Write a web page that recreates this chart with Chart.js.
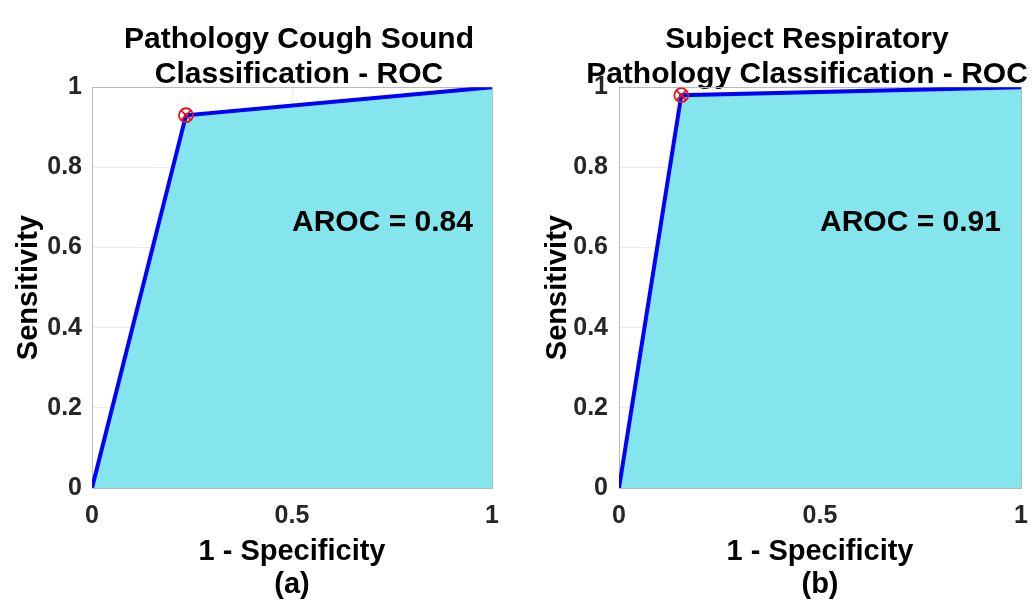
<!DOCTYPE html>
<html><head><meta charset="utf-8">
<script src="https://cdn.jsdelivr.net/npm/chart.js@4/dist/chart.umd.min.js"></script>
<style>
html,body{margin:0;padding:0;background:#fff;overflow:hidden;width:1035px;height:601px;position:relative;}
.wrap{position:absolute;top:0;height:601px;}
#wa{left:0;width:598px;}
#wb{left:530px;width:554px;}
canvas{display:block;}
</style></head><body>
<div class="wrap" id="wa"><canvas id="ca" width="598" height="601"></canvas></div>
<div class="wrap" id="wb"><canvas id="cb" width="554" height="601"></canvas></div>
<script>
// ---- data ----
const xTicks = [0, 0.5, 1];
const yTicks = [0, 0.2, 0.4, 0.6, 0.8, 1];
const rocA_fpr = [0, 0.235, 1];
const rocA_tpr = [0, 0.93, 1];
const opA_fpr = [0.235];
const opA_tpr = [0.93];
const rocB_fpr = [0, 0.155, 1];
const rocB_tpr = [0, 0.98, 1];
const opB_fpr = [0.155];
const opB_tpr = [0.98];
const titleA = ['Pathology Cough Sound', 'Classification - ROC'];
const titleB = ['Subject Respiratory', 'Pathology Classification - ROC'];
const arocA = 0.84;
const arocB = 0.91;
const panelA = '(a)';
const panelB = '(b)';
const xLabel = '1 - Specificity';
const yLabel = 'Sensitivity';

// ---- style ----
const FAM = '"Liberation Sans", Arial, Helvetica, sans-serif';
const tickFont = {family: FAM, size: 25, weight: 'bold'};
const labelFont = {family: FAM, size: 29, weight: 'bold', lineHeight: 1.15};
const titleFont = {family: FAM, size: 30, weight: 'bold', lineHeight: 1.17};
const FRAME = '#b8b8b8';
const GRID = '#ececec';
const FILL = 'rgb(132,230,236)';
const LINE = '#0000ff';
const MARK = '#ee1111';

const arocPlugin = {
  id: 'arocLabel',
  afterDatasetsDraw(chart, args, opts) {
    const ctx = chart.ctx;
    const xs = chart.scales.x, ys = chart.scales.y;
    ctx.save();
    ctx.font = 'bold 30px ' + FAM;
    ctx.fillStyle = '#000';
    ctx.textAlign = 'left';
    ctx.textBaseline = 'middle';
    ctx.fillText(opts.text, xs.getPixelForValue(opts.x), ys.getPixelForValue(opts.y));
    ctx.restore();
  }
};

function pts(xs, ys) { return xs.map((v, i) => ({x: v, y: ys[i]})); }
const fmt = v => String(v);

function makeChart(id, p) {
  return new Chart(document.getElementById(id), {
    type: 'line',
    data: {
      datasets: [
        {data: pts(p.opx, p.opy), showLine: false, pointStyle: 'crossRot', pointRadius: 7,
         pointBorderColor: MARK, pointBorderWidth: 1.8, pointBackgroundColor: 'rgba(0,0,0,0)'},
        {data: pts(p.opx, p.opy), showLine: false, pointStyle: 'circle', pointRadius: 7,
         pointBorderColor: MARK, pointBorderWidth: 1.8, pointBackgroundColor: 'rgba(0,0,0,0)'},
        {data: pts(p.fpr, p.tpr), borderColor: LINE, borderWidth: 4, backgroundColor: FILL,
         fill: 'origin', pointRadius: 0, tension: 0}
      ]
    },
    options: {
      responsive: false,
      animation: false,
      devicePixelRatio: 1,
      layout: {padding: 0},
      plugins: {
        legend: {display: false},
        tooltip: {enabled: false},
        title: {display: true, text: p.title, font: titleFont, color: '#000',
                padding: {top: 22, bottom: -5}},
        arocLabel: {text: 'AROC = ' + p.aroc.toFixed(2), x: 0.5, y: 0.663}
      },
      scales: {
        x: {
          type: 'linear', min: 0, max: 1, position: 'bottom',
          afterBuildTicks: s => { s.ticks = xTicks.map(v => ({value: v})); },
          ticks: {font: tickFont, color: '#262626', padding: 13, maxRotation: 0, autoSkip: false, callback: fmt},
          grid: {color: GRID, drawTicks: false},
          border: {color: FRAME, width: 1},
          title: {display: true, text: [xLabel, p.panel], font: labelFont, color: '#000',
                  padding: {top: 0, bottom: -1}},
          afterFit: s => { s.height = 113; }
        },
        x2: {
          type: 'linear', min: 0, max: 1, position: 'top',
          ticks: {display: false}, grid: {display: false, drawTicks: false},
          border: {color: FRAME, width: 1},
          afterFit: s => { s.height = 0; }
        },
        y: {
          type: 'linear', min: 0, max: 1, position: 'left',
          afterBuildTicks: s => { s.ticks = yTicks.map(v => ({value: v})); },
          ticks: {font: tickFont, color: '#262626', padding: p.ytp, autoSkip: false, callback: fmt},
          grid: {color: GRID, drawTicks: false},
          border: {color: FRAME, width: 1},
          title: {display: true, text: yLabel, font: labelFont, color: '#000',
                  padding: {top: p.ytitlePad, bottom: 0}},
          afterFit: s => { s.width = p.yw; }
        },
        y2: {
          type: 'linear', min: 0, max: 1, position: 'right',
          ticks: {display: false}, grid: {display: false, drawTicks: false},
          border: {color: FRAME, width: 1},
          afterFit: s => { s.width = p.y2w; }
        }
      }
    },
    plugins: [arocPlugin]
  });
}

makeChart('ca', {fpr: rocA_fpr, tpr: rocA_tpr, opx: opA_fpr, opy: opA_tpr, title: titleA,
  aroc: arocA, panel: panelA, yw: 92, y2w: 106, ytp: 10, ytitlePad: 12});
makeChart('cb', {fpr: rocB_fpr, tpr: rocB_tpr, opx: opB_fpr, opy: opB_tpr, title: titleB,
  aroc: arocB, panel: panelB, yw: 89, y2w: 63, ytp: 11, ytitlePad: 11});
</script>
</body></html>
